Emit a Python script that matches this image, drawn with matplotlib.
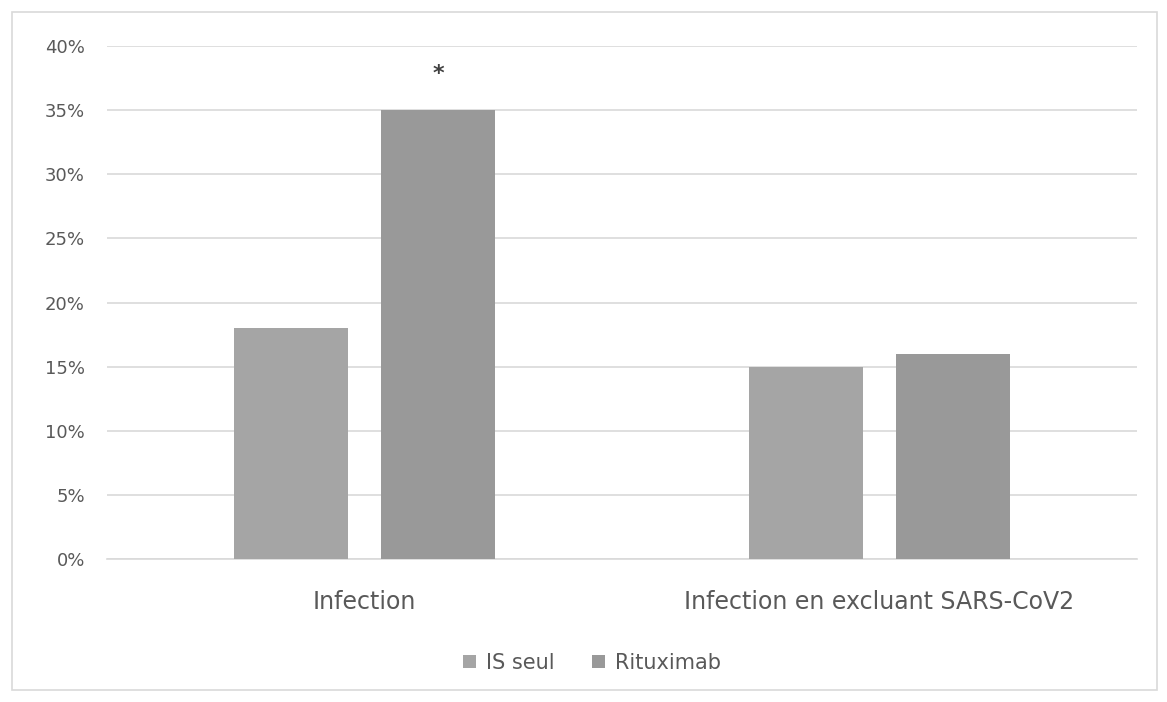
import matplotlib
matplotlib.use("Agg")
import matplotlib.pyplot as plt
from matplotlib.patches import Rectangle
import numpy as np

categories = ["Infection", "Infection en excluant SARS-CoV2"]
series_names = ["IS seul", "Rituximab"]
is_seul = [0.18, 0.15]
rituximab = [0.35, 0.16]
annotations = ["*", ""]
yticks = [0, 0.05, 0.10, 0.15, 0.20, 0.25, 0.30, 0.35, 0.40]
ytick_labels = ["0%", "5%", "10%", "15%", "20%", "25%", "30%", "35%", "40%"]

colors = ["#a5a5a5", "#999999"]
text_color = "#595959"
plt.rcParams['font.family'] = ['DejaVu Sans']

W, H = 1167, 702
fig = plt.figure(figsize=(W / 100, H / 100), dpi=100)
fig.patches.append(Rectangle((12 / W, 1 - 690 / H), (1157 - 12) / W, (690 - 12) / H,
                             transform=fig.transFigure, fill=False,
                             edgecolor="#d9d9d9", linewidth=1.2))

ax = fig.add_axes([107 / W, 1 - 559 / H, (1137 - 107) / W, (559 - 46) / H])
x = np.arange(len(categories))
bw = 0.222
off = 0.143
b1 = ax.bar(x - off, is_seul, bw, color=colors[0], label=series_names[0], zorder=3)
b2 = ax.bar(x + off, rituximab, bw, color=colors[1], label=series_names[1], zorder=3)

ax.set_xlim(-0.5, 1.5)
ax.set_ylim(0, 0.40)
ax.set_yticks(yticks)
ax.set_yticklabels(ytick_labels, color=text_color, fontsize=13)
ax.set_xticks(x)
ax.set_xticklabels(categories, color=text_color, fontsize=17)
ax.tick_params(axis="both", length=0)
ax.tick_params(axis="y", pad=16)
ax.tick_params(axis="x", pad=22)
ax.grid(axis="y", color="#d9d9d9", linewidth=1.2, zorder=0)
for s in ["top", "right", "left"]:
    ax.spines[s].set_visible(False)
ax.spines["bottom"].set_color("#d9d9d9")
ax.spines["bottom"].set_linewidth(1.2)

for xi, v, a in zip(x + off, rituximab, annotations):
    if a:
        ax.annotate(a, (xi, v), xytext=(0, 26), textcoords="offset points",
                    ha="center", va="center", fontsize=16, fontweight="bold",
                    color="#404040", zorder=5,
                    bbox=dict(boxstyle="square,pad=0.6", facecolor="white",
                              edgecolor="none"))

leg = fig.legend(handles=[b1, b2], labels=series_names, loc="center",
                 bbox_to_anchor=(592 / W, 1 - 663 / H), ncol=2, frameon=False,
                 fontsize=15, handlelength=0.6, handleheight=0.6,
                 handletextpad=0.5, columnspacing=1.8)
for t in leg.get_texts():
    t.set_color(text_color)

fig.savefig("out.png", dpi=100)
